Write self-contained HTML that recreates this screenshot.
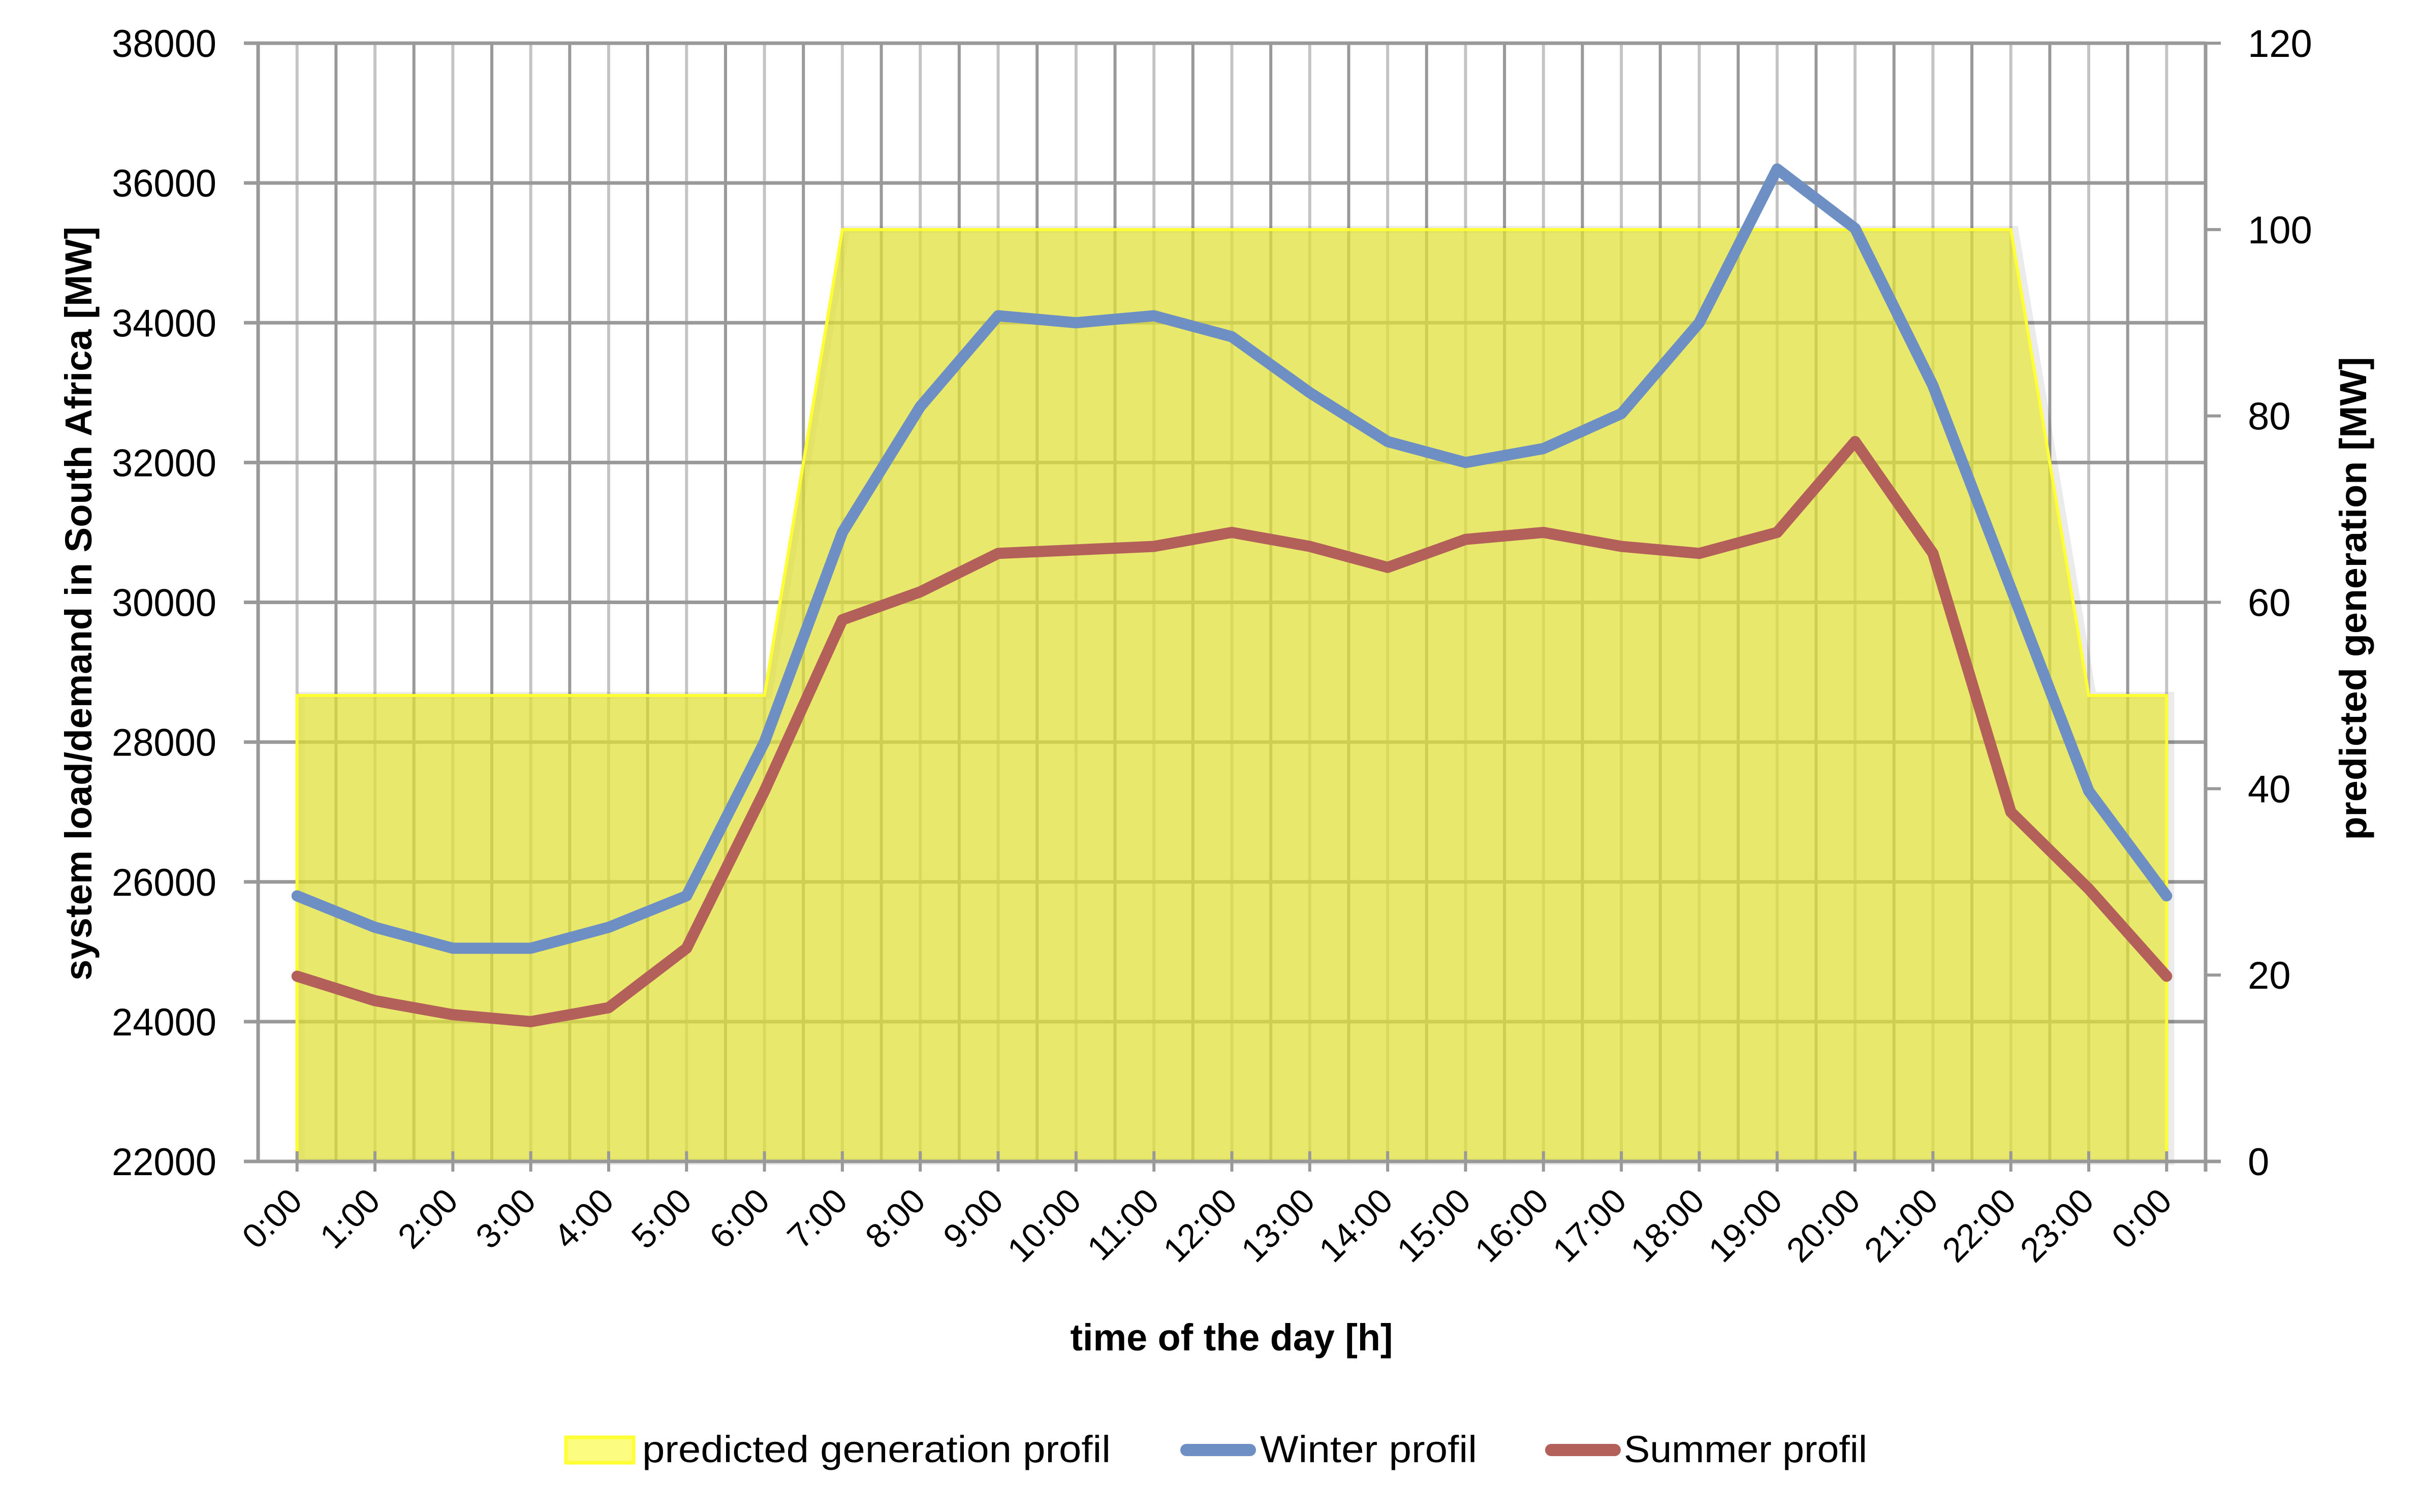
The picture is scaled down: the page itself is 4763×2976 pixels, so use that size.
<!DOCTYPE html>
<html><head><meta charset="utf-8"><style>
html,body{margin:0;padding:0;background:#fff}
svg{display:block}
text{font-family:"Liberation Sans",sans-serif;fill:#000}
</style></head><body>
<svg id="chart" width="4763" height="2976" viewBox="0 0 4763 2976" xmlns="http://www.w3.org/2000/svg">
<g id="grid"></g>
<g id="area"></g>
<g id="lines"></g>
<g id="axes"></g>
<text transform="translate(180,1188) rotate(-90)" text-anchor="middle" font-weight="bold" font-size="74" textLength="1484" lengthAdjust="spacingAndGlyphs">system load/demand in South Africa [MW]</text>
<text transform="translate(4657,1178) rotate(-90)" text-anchor="middle" font-weight="bold" font-size="74" textLength="951" lengthAdjust="spacingAndGlyphs">predicted  generation [MW]</text>
<text x="2424" y="2658" text-anchor="middle" font-weight="bold" font-size="74" textLength="635" lengthAdjust="spacingAndGlyphs">time of the day [h]</text>
<g>
<rect x="1114" y="2829" width="133" height="50" fill="#fcfc80" stroke="#ffff33" stroke-width="7"/>
<text x="1264" y="2878" font-size="74" textLength="922" lengthAdjust="spacingAndGlyphs">predicted  generation profil</text>
<line x1="2335" y1="2854" x2="2460" y2="2854" stroke="#6d8fc3" stroke-width="24" stroke-linecap="round"/>
<text x="2480" y="2878" font-size="74" textLength="427" lengthAdjust="spacingAndGlyphs">Winter profil</text>
<line x1="3053" y1="2854" x2="3178" y2="2854" stroke="#b4605a" stroke-width="24" stroke-linecap="round"/>
<text x="3196" y="2878" font-size="74" textLength="479" lengthAdjust="spacingAndGlyphs">Summer profil</text>
</g>
</svg>
<script>
const categories=["0:00","1:00","2:00","3:00","4:00","5:00","6:00","7:00","8:00","9:00","10:00","11:00","12:00","13:00","14:00","15:00","16:00","17:00","18:00","19:00","20:00","21:00","22:00","23:00","0:00"];
const winter=[25800,25350,25050,25050,25350,25800,28000,31000,32800,34100,34000,34100,33800,33000,32300,32000,32200,32700,34000,36200,35350,33100,30200,27300,25800];
const summer=[24650,24300,24100,24000,24200,25050,27300,29750,30150,30700,30750,30800,31000,30800,30500,30900,31000,30800,30700,31000,32300,30700,27000,25900,24650];
const generation=[50,50,50,50,50,50,50,100,100,100,100,100,100,100,100,100,100,100,100,100,100,100,100,50,50];
const leftTicks=[22000,24000,26000,28000,30000,32000,34000,36000,38000];
const rightTicks=[0,20,40,60,80,100,120];

const NS="http://www.w3.org/2000/svg";
const X0=508,X1=4341,YT=85,YB=2286;
const step=(X1-X0)/categories.length;
const xc=i=>X0+step*(i+0.5);
const yL=v=>YB-(v-22000)/16000*(YB-YT);
const yR=v=>YB-v/120*(YB-YT);
function mk(tag,parent,attrs){const e=document.createElementNS(NS,tag);for(const k in attrs)e.setAttribute(k,attrs[k]);parent.appendChild(e);return e;}
const grid=document.getElementById('grid'),area=document.getElementById('area'),lines=document.getElementById('lines'),axes=document.getElementById('axes');

for(let k=0;k<=categories.length;k++){
  const x=X0+k*step;
  const l=mk('line',grid,{x1:x,y1:YT,x2:x,y2:YB,stroke:'#999',"stroke-width":6});
  
  
}
categories.forEach((c,i)=>{
  const l=mk('line',grid,{x1:xc(i),y1:YT,x2:xc(i),y2:YB,stroke:'#c4c4c4',"stroke-width":6});
  
  
});
leftTicks.forEach(v=>{
  const l=mk('line',grid,{x1:X0-28,y1:yL(v),x2:X1,y2:yL(v),stroke:'#999',"stroke-width":7});
  
  
});

let d='M'+xc(0)+','+YB;
generation.forEach((v,i)=>{d+=' L'+xc(i)+','+yR(v);});
d+=' L'+xc(generation.length-1)+','+YB+' Z';
const sh=mk('path',area,{d:d,fill:'none',stroke:'#000',"stroke-opacity":0.08,"stroke-width":14,transform:'translate(8,0)'});


const ap=mk('path',area,{d:d,fill:'rgb(224,224,60)',"fill-opacity":0.75,stroke:'#ffff33',"stroke-width":6});



function series(vals,color,name){
  const pts=vals.map((v,i)=>xc(i)+','+yL(v)).join(' ');
  const p=mk('polyline',lines,{points:pts,fill:'none',stroke:color,"stroke-width":22,"stroke-linejoin":'round',"stroke-linecap":'round'});
  
  
}
series(winter,'#6d8fc3','winter-line');
series(summer,'#b4605a','summer-line');

const ax=mk('line',axes,{x1:X0-28,y1:YB,x2:X1+30,y2:YB,stroke:'#999',"stroke-width":7});


const ly=mk('line',axes,{x1:X0,y1:YT,x2:X0,y2:YB,stroke:'#999',"stroke-width":7});


const ry=mk('line',axes,{x1:X1,y1:YT,x2:X1,y2:YB+20,stroke:'#999',"stroke-width":7});


categories.forEach((c,i)=>{
  const t=mk('line',axes,{x1:xc(i),y1:YB-20,x2:xc(i),y2:YB+20,stroke:'#999',"stroke-width":6});
  
  
  const tx=mk('text',axes,{transform:'translate('+(xc(i)+14)+','+(YB+82)+') rotate(-45)',"text-anchor":'end',"font-size":68});
  tx.textContent=c;
  
  
});
leftTicks.forEach(v=>{
  const t=mk('text',axes,{x:426,y:yL(v)+27,"text-anchor":'end',"font-size":76,textLength:206,lengthAdjust:'spacingAndGlyphs'});
  t.textContent=v;
  
  
});
rightTicks.forEach(v=>{
  const t=mk('line',axes,{x1:X1,y1:yR(v),x2:X1+30,y2:yR(v),stroke:'#999',"stroke-width":6});
  
  
  const tx=mk('text',axes,{x:4424,y:yR(v)+27,"font-size":76});
  tx.textContent=v;
  
  
});
</script>
</body></html>
